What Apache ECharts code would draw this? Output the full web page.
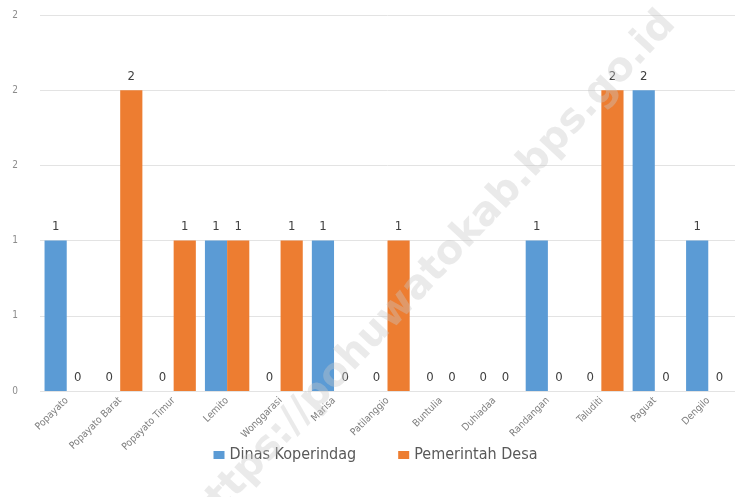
<!doctype html>
<html><head><meta charset="utf-8"></head>
<body style="margin:0;width:751px;height:497px;background:#fff">
<div id="container" style="width:751px;height:497px"></div>
<script src="https://cdn.jsdelivr.net/npm/echarts@6/dist/echarts.min.js"></script>
<script>
var categories = ['Popayato','Popayato Barat','Popayato Timur','Lemito','Wonggarasi','Marisa','Patilanggio','Buntulia','Duhiadaa','Randangan','Taluditi','Paguat','Dengilo'];
var dinasKoperindag = [1,0,0,1,0,1,0,0,0,1,0,2,1];
var pemerintahDesa = [0,2,1,1,1,0,1,0,0,0,2,0,0];
var yTickLabels = ['0','1','1','2','2','2'];

var font = '"DejaVu Sans Condensed", sans-serif';
var chart = echarts.init(document.getElementById('container'));

var labelOpt = {show: true, position: 'top', distance: 7, color: '#404040', fontSize: 13, fontFamily: font};

chart.setOption({
    animation: false,
    grid: {left: 40, right: 16, top: 15, bottom: 106},
    legend: {
        bottom: 29, left: 'center', itemWidth: 11, itemHeight: 8, itemGap: 42,
        icon: 'rect',
        textStyle: {color: '#595959', fontSize: 16, fontFamily: font},
        data: ['Dinas Koperindag','Pemerintah Desa']
    },
    xAxis: {
        type: 'category', data: categories,
        axisLine: {show: false}, axisTick: {show: false},
        axisLabel: {interval: 0, rotate: 45, color: '#7f7f7f', fontSize: 10, fontFamily: font, margin: 8}
    },
    yAxis: {
        type: 'value', min: 0, max: 2.5, interval: 0.5,
        axisLine: {show: false}, axisTick: {show: false},
        splitLine: {lineStyle: {color: '#e3e3e3'}},
        axisLabel: {
            color: '#8c8c8c', fontSize: 10, fontFamily: font, margin: 22,
            formatter: function (v) { return yTickLabels[Math.round(v / 0.5)]; }
        }
    },
    series: [
        {name: 'Dinas Koperindag', type: 'bar', data: dinasKoperindag, barGap: '0%', barCategoryGap: '17%',
         itemStyle: {color: '#5b9bd5'}, label: labelOpt},
        {name: 'Pemerintah Desa', type: 'bar', data: pemerintahDesa,
         itemStyle: {color: '#ed7d31'}, label: labelOpt}
    ],
    graphic: [{
        type: 'text', x: 432, y: 272, rotation: 47 * Math.PI / 180, z: 100, silent: true,
        style: {
            text: 'https://pohuwatokab.bps.go.id', fill: 'rgba(200,200,200,0.38)',
            font: 'bold 40px "DejaVu Sans", sans-serif', align: 'center', verticalAlign: 'middle'
        }
    }]
});
</script>
</body></html>
